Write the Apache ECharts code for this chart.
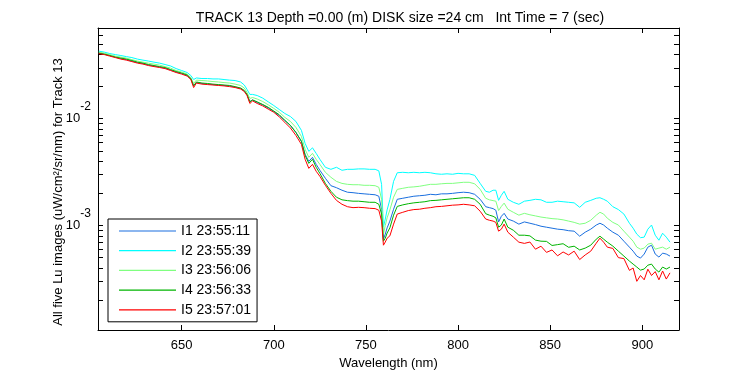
<!DOCTYPE html>
<html>
<head>
<meta charset="utf-8">
<script src="https://cdn.jsdelivr.net/npm/echarts@6/dist/echarts.min.js"></script>
<style>html,body{margin:0;padding:0;background:#fff}#c{width:750px;height:375px}</style>
</head>
<body>
<div id="c"></div>
<script>
const titleText = 'TRACK 13 Depth =0.00 (m) DISK size =24 cm   Int Time = 7 (sec)';
const xName = 'Wavelength (nm)';
const yName = 'All five Lu images (uW/cm\u00B2/sr/nm) for Track 13';
const seriesNames = ['I1 23:55:11', 'I2 23:55:39', 'I3 23:56:06', 'I4 23:56:33', 'I5 23:57:01'];
const seriesColors = ['#1a6fdf', '#00ffff', '#80ff80', '#00b400', '#ff0000'];
const xTicks = [650, 700, 750, 800, 850, 900];
const yLabelTicks = [0.001, 0.01];
const yTicks = [2e-4,3e-4,4e-4,5e-4,6e-4,7e-4,8e-4,9e-4,1e-3,2e-3,3e-3,4e-3,5e-3,6e-3,7e-3,8e-3,9e-3,1e-2,2e-2,3e-2,4e-2,5e-2,6e-2,7e-2];

const wavelength = [605,608,611,614,617,620,623,626,629,632,635,638,641,644,647,650,653,
655,656.5,658,
661,664,667,670,673,676,679,682,
684,685.5,687,688.5,
691,694,697,700,703,706,709,712,715,
717,719,721,723,725,
728,731,734,737,740,743,746,749,752,755,
757,758.5,759.5,760.5,761.5,763,765,767,
770,773,776,779,782,785,788,791,794,797,800,803,806,809,812,
815,817,819,820.5,822,823.5,825,827,
830,833,836,839,842,845,848,851,854,857,860,863,866,869,872,875,
877,879,881,
884,887,890,893,
895,897,899,901,903,905,907,909,911,913,915];

const i1 = [0.0412,0.0403,0.0391,0.0378,0.0366,0.0358,0.0347,0.0336,0.0329,0.0318,0.0312,0.0305,0.0298,0.0286,0.0274,0.0265,0.0254,
0.0236,0.0205,0.0218,
0.0214,0.0211,0.0209,0.0207,0.0205,0.0203,0.0198,0.0192,
0.0182,0.0167,0.0145,0.0150,
0.0142,0.0135,0.0126,0.0117,0.0107,0.00964,0.00866,0.00745,0.00614,
0.00464,0.00399,0.00435,0.00374,0.00329,
0.00277,0.00236,0.00226,0.00214,0.00205,0.00203,0.00200,0.00198,0.00196,0.00194,
0.00188,0.00142,0.000745,0.000830,0.000950,0.00110,0.00142,0.00176,
0.00180,0.00184,0.00188,0.00190,0.00192,0.00196,0.00194,0.00198,0.00198,0.00200,0.00203,0.00205,0.00203,0.00196,0.00176,
0.00150,0.00147,0.00144,0.00139,0.00108,0.00122,0.00130,0.00115,
0.00110,0.00103,0.00108,0.00105,0.00102,0.000985,0.000964,0.000944,0.000924,0.000914,0.000894,0.000885,0.000794,0.000866,0.000924,0.00101,
0.00105,0.00101,0.000944,
0.000866,0.000811,0.000713,0.000627,
0.000575,0.000517,0.000495,0.000540,0.000627,0.000654,0.000540,0.000506,0.000551,0.000540,0.000517];

const i2 = [0.0430,0.0421,0.0408,0.0399,0.0391,0.0382,0.0374,0.0362,0.0354,0.0347,0.0339,0.0332,0.0322,0.0312,0.0295,0.0283,0.0271,
0.0254,0.0233,0.0241,
0.0238,0.0238,0.0236,0.0236,0.0233,0.0230,0.0228,0.0221,
0.0207,0.0188,0.0169,0.0169,
0.0165,0.0156,0.0144,0.0133,0.0122,0.0112,0.0105,0.00944,0.00778,
0.00587,0.00495,0.00534,0.00474,0.00417,
0.00351,0.00336,0.00351,0.00329,0.00336,0.00336,0.00339,0.00339,0.00336,0.00336,
0.00325,0.00243,0.000964,0.00115,0.00140,0.00175,0.00259,0.00312,
0.00315,0.00312,0.00315,0.00312,0.00315,0.00312,0.00305,0.00302,0.00305,0.00302,0.00308,0.00305,0.00305,0.00295,0.00248,
0.00209,0.00205,0.00214,0.00214,0.00172,0.00192,0.00209,0.00176,
0.00165,0.00158,0.00169,0.00172,0.00176,0.00174,0.00165,0.00165,0.00169,0.00167,0.00165,0.00163,0.00148,0.00165,0.00172,0.00180,
0.00182,0.00176,0.00169,
0.00150,0.00141,0.00128,0.00105,
0.000944,0.000830,0.000769,0.000778,0.000924,0.00101,0.000811,0.000728,0.000847,0.000778,0.000698];

const i3 = [0.0421,0.0412,0.0399,0.0386,0.0378,0.0370,0.0358,0.0347,0.0339,0.0332,0.0325,0.0318,0.0308,0.0298,0.0283,0.0274,0.0262,
0.0243,0.0214,0.0230,
0.0228,0.0226,0.0223,0.0221,0.0218,0.0216,0.0211,0.0205,
0.0194,0.0176,0.0155,0.0158,
0.0153,0.0145,0.0135,0.0125,0.0115,0.0103,0.00944,0.00830,0.00683,
0.00517,0.00435,0.00474,0.00417,0.00374,
0.00315,0.00283,0.00259,0.00248,0.00243,0.00241,0.00241,0.00238,0.00238,0.00236,
0.00228,0.00176,0.000830,0.00100,0.00118,0.00140,0.00184,0.00218,
0.00223,0.00228,0.00230,0.00233,0.00238,0.00243,0.00243,0.00246,0.00248,0.00248,0.00251,0.00254,0.00254,0.00246,0.00218,
0.00180,0.00174,0.00171,0.00169,0.00138,0.00151,0.00162,0.00142,
0.00133,0.00125,0.00130,0.00126,0.00123,0.00120,0.00118,0.00116,0.00115,0.00113,0.00110,0.00107,0.00103,0.00105,0.00112,0.00125,
0.00133,0.00128,0.00117,
0.00107,0.00101,0.000885,0.000778,
0.000713,0.000627,0.000600,0.000614,0.000669,0.000683,0.000600,0.000614,0.000627,0.000600,0.000627];

const i4 = [0.0412,0.0403,0.0391,0.0378,0.0370,0.0362,0.0351,0.0339,0.0332,0.0322,0.0315,0.0308,0.0302,0.0289,0.0277,0.0268,0.0257,
0.0238,0.0203,0.0221,
0.0216,0.0214,0.0211,0.0209,0.0207,0.0205,0.0200,0.0194,
0.0184,0.0169,0.0144,0.0150,
0.0144,0.0136,0.0128,0.0118,0.0109,0.00964,0.00866,0.00745,0.00614,
0.00454,0.00382,0.00417,0.00351,0.00308,
0.00248,0.00209,0.00184,0.00174,0.00171,0.00169,0.00169,0.00167,0.00165,0.00165,
0.00158,0.00128,0.000713,0.000760,0.000850,0.000950,0.00125,0.00151,
0.00156,0.00160,0.00163,0.00165,0.00167,0.00171,0.00172,0.00174,0.00176,0.00178,0.00180,0.00182,0.00182,0.00176,0.00158,
0.00129,0.00125,0.00122,0.00118,0.000964,0.00101,0.00115,0.000964,
0.000903,0.000811,0.000811,0.000800,0.000730,0.000713,0.000710,0.000650,0.000662,0.000675,0.000625,0.000640,0.000590,0.000614,0.000654,0.000745,
0.000794,0.000745,0.000698,
0.000641,0.000575,0.000517,0.000464,
0.000435,0.000408,0.000382,0.000391,0.000425,0.000435,0.000391,0.000366,0.000408,0.000391,0.000408];

const i5 = [0.0408,0.0399,0.0386,0.0374,0.0362,0.0354,0.0343,0.0332,0.0325,0.0315,0.0308,0.0302,0.0295,0.0283,0.0271,0.0262,0.0251,
0.0233,0.0196,0.0216,
0.0211,0.0209,0.0207,0.0205,0.0203,0.0200,0.0196,0.0190,
0.0180,0.0165,0.0139,0.0147,
0.0139,0.0132,0.0123,0.0115,0.0104,0.00924,0.00820,0.00698,0.00575,
0.00417,0.00343,0.00374,0.00322,0.00289,
0.00238,0.00200,0.00172,0.00158,0.00150,0.00147,0.00148,0.00147,0.00145,0.00144,
0.00139,0.00110,0.000654,0.000700,0.000760,0.000800,0.00103,0.00128,
0.00133,0.00138,0.00141,0.00142,0.00145,0.00147,0.00150,0.00151,0.00153,0.00155,0.00156,0.00158,0.00156,0.00153,0.00136,
0.00115,0.00112,0.00110,0.00107,0.000885,0.000924,0.00103,0.000866,
0.000778,0.000698,0.000680,0.000700,0.000600,0.000640,0.000560,0.000590,0.000520,0.000565,0.000530,0.000575,0.000480,0.000530,0.000575,0.000683,
0.000761,0.000698,0.000627,
0.000610,0.000500,0.000490,0.000380,
0.000400,0.000300,0.000340,0.000310,0.000390,0.000340,0.000370,0.000310,0.000375,0.000315,0.000360];

const seriesValues = [i1, i2, i3, i4, i5];
const FONT = 'Liberation Sans, Arial, Helvetica, sans-serif';
const X_MIN = 604.6, X_MAX = 919.9, Y_MIN = 1.05e-4, Y_MAX = 0.0708;

const chart = echarts.init(document.getElementById('c'), null, {renderer: 'canvas'});

function pairs(vals) { return wavelength.map((w, i) => [w, vals[i]]); }

const tickStyle = {show: true, inside: true, length: 5, lineStyle: {color: '#000', width: 1}};
const lineStyle = {color: '#000', width: 1};

chart.setOption({
  animation: false,
  backgroundColor: '#fff',
  title: {
    text: titleText, left: 395, top: 6, textAlign: 'center',
    textStyle: {fontFamily: FONT, fontSize: 14, fontWeight: 'normal', color: '#000'}
  },
  grid: {left: 98, top: 28, right: 71, bottom: 44, containLabel: false},
  legend: {
    orient: 'vertical', left: 108, top: 219,
    data: seriesNames,
    icon: 'rect',
    itemWidth: 57, itemHeight: 1.2, itemGap: 5.7,
    padding: [5, 6, 5, 11],
    borderColor: '#000', borderWidth: 1, backgroundColor: '#fff',
    textStyle: {fontFamily: FONT, fontSize: 14, color: '#000', lineHeight: 14},
    selectedMode: false
  },
  xAxis: [{
    type: 'value', min: X_MIN, max: X_MAX, position: 'bottom',
    name: xName, nameLocation: 'middle', nameGap: 27,
    nameTextStyle: {fontFamily: FONT, fontSize: 13, color: '#000'},
    axisLine: {show: true, lineStyle: lineStyle},
    axisTick: Object.assign({customValues: xTicks}, tickStyle),
    axisLabel: {customValues: xTicks, margin: 9, fontFamily: FONT, fontSize: 13, color: '#000'},
    splitLine: {show: false}
  }, {
    type: 'value', min: X_MIN, max: X_MAX, position: 'top',
    axisLine: {show: true, lineStyle: lineStyle},
    axisTick: Object.assign({customValues: xTicks}, tickStyle),
    axisLabel: {show: false},
    splitLine: {show: false}
  }],
  yAxis: [{
    type: 'log', logBase: 10, min: Y_MIN, max: Y_MAX, position: 'left',
    name: yName, nameLocation: 'middle', nameGap: 33, nameMoveOverlap: false,
    nameTextStyle: {fontFamily: FONT, fontSize: 13, color: '#000', padding: [0, 26, 0, 0]},
    axisLine: {show: true, lineStyle: lineStyle},
    axisTick: Object.assign({customValues: yTicks}, tickStyle),
    axisLabel: {
      customValues: yLabelTicks, margin: 7,
      formatter: function (v) { return '{b|10}{e|' + Math.round(Math.log10(v)) + '}'; },
      rich: {
        b: {fontFamily: FONT, fontSize: 13, color: '#000'},
        e: {fontFamily: FONT, fontSize: 12, color: '#000', padding: [0, 0, 24, 0]}
      }
    },
    splitLine: {show: false}
  }, {
    type: 'log', logBase: 10, min: Y_MIN, max: Y_MAX, position: 'right',
    axisLine: {show: true, lineStyle: lineStyle},
    axisTick: Object.assign({customValues: yTicks}, tickStyle),
    axisLabel: {show: false},
    splitLine: {show: false}
  }],
  series: seriesNames.map((name, k) => ({
    name: name, type: 'line', xAxisIndex: 0, yAxisIndex: 0,
    data: pairs(seriesValues[k]),
    showSymbol: false, symbol: 'none',
    lineStyle: {color: seriesColors[k], width: 1},
    itemStyle: {color: seriesColors[k]},
    emphasis: {disabled: true}
  }))
});
</script>
</body>
</html>
